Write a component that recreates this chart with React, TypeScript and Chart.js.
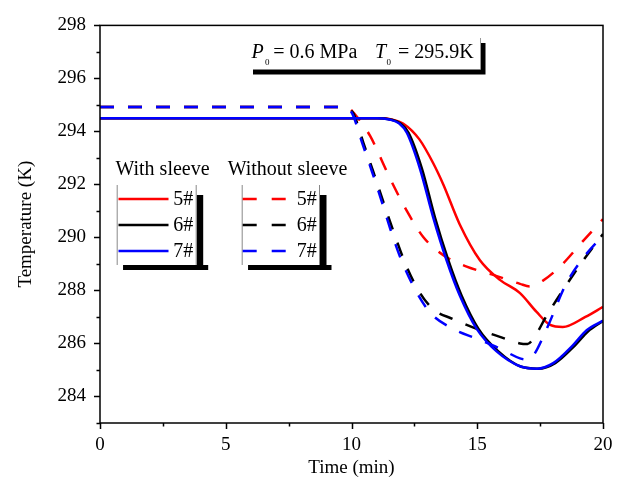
import React, { useEffect, useRef } from "react";
import { Chart, registerables } from "chart.js";

Chart.register(...registerables);

const FONT = "'Liberation Serif', 'Times New Roman', serif";

// ---- Data (time in min, temperature in K) ----
const timeSleeve5 = [0, 5, 9, 11.2, 11.6, 12.05, 12.7, 13.25, 13.65, 14.3, 15.1, 15.9, 16.7, 17.35, 17.9, 18.4, 19.3, 20];
const tempSleeve5 = [294.5, 294.5, 294.5, 294.5, 294.45, 294.3, 293.7, 292.8, 292.0, 290.5, 289.15, 288.4, 287.9, 287.2, 286.7, 286.62, 287.0, 287.38];

const timeSleeve6 = [0, 5, 9, 11.05, 11.55, 11.95, 12.27, 12.8, 13.32, 13.85, 14.38, 15.05, 15.84, 16.75, 17.42, 18.1, 18.9, 19.4, 20];
const tempSleeve6 = [294.5, 294.5, 294.5, 294.5, 294.45, 294.3, 293.95, 292.6, 290.75, 289.14, 287.8, 286.55, 285.7, 285.12, 285.05, 285.26, 285.94, 286.45, 286.85];

const timeSleeve7 = [0, 5, 9, 11.0, 11.5, 11.9, 12.2, 12.72, 13.25, 13.78, 14.31, 14.98, 15.77, 16.7, 17.36, 18.02, 18.81, 19.35, 20];
const tempSleeve7 = [294.5, 294.5, 294.5, 294.5, 294.45, 294.3, 293.95, 292.6, 290.75, 289.14, 287.8, 286.55, 285.7, 285.14, 285.05, 285.26, 285.94, 286.5, 286.86];

const timeNoSleeve5 = [0, 5, 9, 9.8, 10.2, 10.74, 11.53, 12.2, 12.86, 13.65, 14.58, 15.64, 16.7, 17.1, 17.5, 18.29, 19.22, 20];
const tempNoSleeve5 = [294.92, 294.92, 294.92, 294.92, 294.57, 293.83, 292.23, 291.0, 290.01, 289.33, 288.9, 288.59, 288.25, 288.15, 288.3, 288.9, 289.88, 290.69];

const timeNoSleeve6 = [0, 5, 9, 9.55, 9.85, 10.07, 10.47, 10.87, 11.26, 11.66, 12.19, 12.72, 13.25, 14.04, 14.98, 15.9, 16.7, 17.0, 17.23, 17.76, 18.42, 19.22, 20];
const tempNoSleeve6 = [294.92, 294.92, 294.92, 294.92, 294.85, 294.69, 293.58, 292.47, 291.36, 290.25, 288.9, 287.91, 287.29, 286.92, 286.55, 286.25, 286.0, 285.98, 286.18, 287.05, 288.03, 289.14, 290.13];

const timeNoSleeve7 = [0, 5, 9, 9.5, 9.8, 10.02, 10.42, 10.82, 11.2, 11.55, 11.93, 12.46, 13.12, 14.04, 14.98, 15.9, 16.7, 16.95, 17.23, 17.76, 18.55, 19.35, 20];
const tempNoSleeve7 = [294.92, 294.92, 294.92, 294.92, 294.85, 294.69, 293.58, 292.47, 291.36, 290.3, 289.27, 288.16, 287.17, 286.55, 286.18, 285.81, 285.44, 285.4, 285.55, 286.55, 288.28, 289.39, 290.07];

const xMajorTicks = [0, 5, 10, 15, 20];
const xMinorTicks = [2.5, 7.5, 12.5, 17.5];
const yMajorTicks = [284, 286, 288, 290, 292, 294, 296, 298];
const yMinorTicks = [283, 285, 287, 289, 291, 293, 295, 297];

const legendGroups = ["With sleeve", "Without sleeve"];
const legendLabels = ["5#", "6#", "7#"];
const seriesColors = ["#ff0000", "#000000", "#0000ff"];

const xTitle = "Time (min)";
const yTitle = "Temperature (K)";

const DASH = [14, 14];

function pts(t: number[], v: number[]) {
  return t.map((x, i) => ({ x, y: v[i] }));
}

const decorPlugin = {
  id: "decor",
  afterDatasetsDraw(chart: any) {
    const { ctx, chartArea: a, scales } = chart;
    const xs = scales.x;
    const ys = scales.y;
    ctx.save();
    // frame
    ctx.strokeStyle = "#000";
    ctx.lineWidth = 1.5;
    ctx.strokeRect(a.left, a.top, a.right - a.left, a.bottom - a.top);
    // ticks
    ctx.beginPath();
    yMajorTicks.forEach((v) => {
      const y = Math.round(ys.getPixelForValue(v)) + 0.5;
      ctx.moveTo(a.left - 6, y);
      ctx.lineTo(a.left, y);
    });
    yMinorTicks.forEach((v) => {
      const y = Math.round(ys.getPixelForValue(v)) + 0.5;
      ctx.moveTo(a.left - 3.5, y);
      ctx.lineTo(a.left, y);
    });
    xMajorTicks.forEach((v) => {
      const x = Math.round(xs.getPixelForValue(v)) + 0.5;
      ctx.moveTo(x, a.bottom);
      ctx.lineTo(x, a.bottom + 6);
    });
    xMinorTicks.forEach((v) => {
      const x = Math.round(xs.getPixelForValue(v)) + 0.5;
      ctx.moveTo(x, a.bottom);
      ctx.lineTo(x, a.bottom + 3.5);
    });
    ctx.stroke();

    // ---- annotation box ----
    ctx.fillStyle = "#000";
    ctx.fillRect(253, 43, 232.5, 31.5);
    ctx.fillStyle = "#fff";
    ctx.fillRect(248, 38, 232.5, 31.5);
    ctx.strokeStyle = "#999";
    ctx.lineWidth = 1;
    ctx.beginPath();
    ctx.moveTo(480.5, 38);
    ctx.lineTo(480.5, 69.5);
    ctx.stroke();

    ctx.fillStyle = "#000";
    ctx.textBaseline = "alphabetic";
    ctx.textAlign = "left";
    ctx.font = `italic 20px ${FONT}`;
    ctx.fillText("P", 251.5, 58);
    ctx.fillText("T", 375, 58);
    ctx.font = `9px ${FONT}`;
    ctx.fillText("0", 265, 64.5);
    ctx.fillText("0", 386.5, 64.5);
    ctx.font = `20px ${FONT}`;
    ctx.fillText("= 0.6 MPa", 273.3, 58);
    ctx.fillText("= 295.9K", 398, 58);

    // ---- legend ----
    const boxes = [
      { l: 116.7, r: 196.7, lineL: 118.5, lineR: 168.5, textX: 173.3, dash: false, cx: 162.5 },
      { l: 241.7, r: 320, lineL: 242.7, lineR: 286.7, textX: 296.7, dash: true, cx: 287.5 },
    ];
    const top = 185;
    const bottom = 265;
    const rowsY = [199, 225, 251];
    boxes.forEach((b, gi) => {
      ctx.fillStyle = "#000";
      ctx.fillRect(b.l + 6.5, top + 10, b.r - b.l, bottom - top - 5);
      ctx.fillRect(b.l + 6.5, bottom, b.r - b.l + 5, 5);
      ctx.fillRect(b.r, top + 10, 5, bottom - top - 5);
      ctx.fillStyle = "#fff";
      ctx.fillRect(b.l, top, b.r - b.l, bottom - top);
      ctx.strokeStyle = "#888";
      ctx.lineWidth = 1;
      ctx.beginPath();
      ctx.moveTo(b.l + 0.5, top);
      ctx.lineTo(b.l + 0.5, bottom);
      ctx.moveTo(b.r - 0.5, top);
      ctx.lineTo(b.r - 0.5, bottom);
      ctx.stroke();

      ctx.fillStyle = "#000";
      ctx.font = `20px ${FONT}`;
      ctx.textAlign = "center";
      ctx.textBaseline = "middle";
      ctx.fillText(legendGroups[gi], b.cx, 170);

      legendLabels.forEach((lab, i) => {
        ctx.strokeStyle = seriesColors[i];
        ctx.lineWidth = 2.5;
        ctx.setLineDash(b.dash ? [14, 15] : []);
        ctx.beginPath();
        ctx.moveTo(b.lineL, rowsY[i]);
        ctx.lineTo(b.lineR, rowsY[i]);
        ctx.stroke();
        ctx.setLineDash([]);
        ctx.fillStyle = "#000";
        ctx.textAlign = "left";
        ctx.textBaseline = "middle";
        ctx.fillText(lab, b.textX, rowsY[i] + 1);
      });
    });
    ctx.restore();
  },
};

export default function App() {
  const ref = useRef<HTMLCanvasElement | null>(null);
  useEffect(() => {
    if (!ref.current) return;
    const mk = (label: string, data: any[], color: string, dashed: boolean, order: number) => ({
      label,
      data,
      borderColor: color,
      backgroundColor: color,
      borderWidth: 2.5,
      borderDash: dashed ? DASH : [],
      pointRadius: 0,
      fill: false,
      cubicInterpolationMode: "monotone" as const,
      order,
    });
    const chart = new Chart(ref.current, {
      type: "line",
      data: {
        datasets: [
          mk("With sleeve 5#", pts(timeSleeve5, tempSleeve5), seriesColors[0], false, 5),
          mk("Without sleeve 5#", pts(timeNoSleeve5, tempNoSleeve5), seriesColors[0], true, 4),
          mk("With sleeve 6#", pts(timeSleeve6, tempSleeve6), seriesColors[1], false, 3),
          mk("Without sleeve 6#", pts(timeNoSleeve6, tempNoSleeve6), seriesColors[1], true, 2),
          mk("With sleeve 7#", pts(timeSleeve7, tempSleeve7), seriesColors[2], false, 1),
          mk("Without sleeve 7#", pts(timeNoSleeve7, tempNoSleeve7), seriesColors[2], true, 0),
        ],
      },
      options: {
        animation: false,
        responsive: false,
        devicePixelRatio: 1,
        layout: { padding: { left: 0, right: 22, top: 17, bottom: 0 } },
        plugins: {
          legend: { display: false },
          tooltip: { enabled: false },
        },
        scales: {
          x: {
            type: "linear",
            min: 0,
            max: 20,
            afterBuildTicks: (s: any) => {
              s.ticks = xMajorTicks.map((v) => ({ value: v }));
            },
            afterFit: (s: any) => {
              s.height = 61;
            },
            grid: { display: false, drawTicks: false },
            border: { display: false },
            ticks: {
              color: "#000",
              font: { family: FONT, size: 19 },
              padding: 11,
              maxRotation: 0,
            },
            title: {
              display: true,
              text: xTitle,
              color: "#000",
              font: { family: FONT, size: 19 },
              padding: { top: 0, bottom: 5 },
            },
          },
          y: {
            type: "linear",
            min: 283,
            max: 298,
            afterBuildTicks: (s: any) => {
              s.ticks = yMajorTicks.map((v) => ({ value: v }));
            },
            afterFit: (s: any) => {
              s.width = 100;
            },
            grid: { display: false, drawTicks: false },
            border: { display: false },
            ticks: {
              color: "#000",
              font: { family: FONT, size: 19 },
              padding: 14,
            },
            title: {
              display: true,
              text: yTitle,
              color: "#000",
              font: { family: FONT, size: 19 },
              padding: { top: 15, bottom: 0 },
            },
          },
        },
      },
      plugins: [decorPlugin],
    });
    return () => chart.destroy();
  }, []);
  return (
    <div style={{ position: "absolute", left: 0, top: 0, width: 625, height: 484, background: "#fff" }}>
      <canvas ref={ref} width={625} height={484} style={{ width: 625, height: 484, display: "block" }} />
    </div>
  );
}
